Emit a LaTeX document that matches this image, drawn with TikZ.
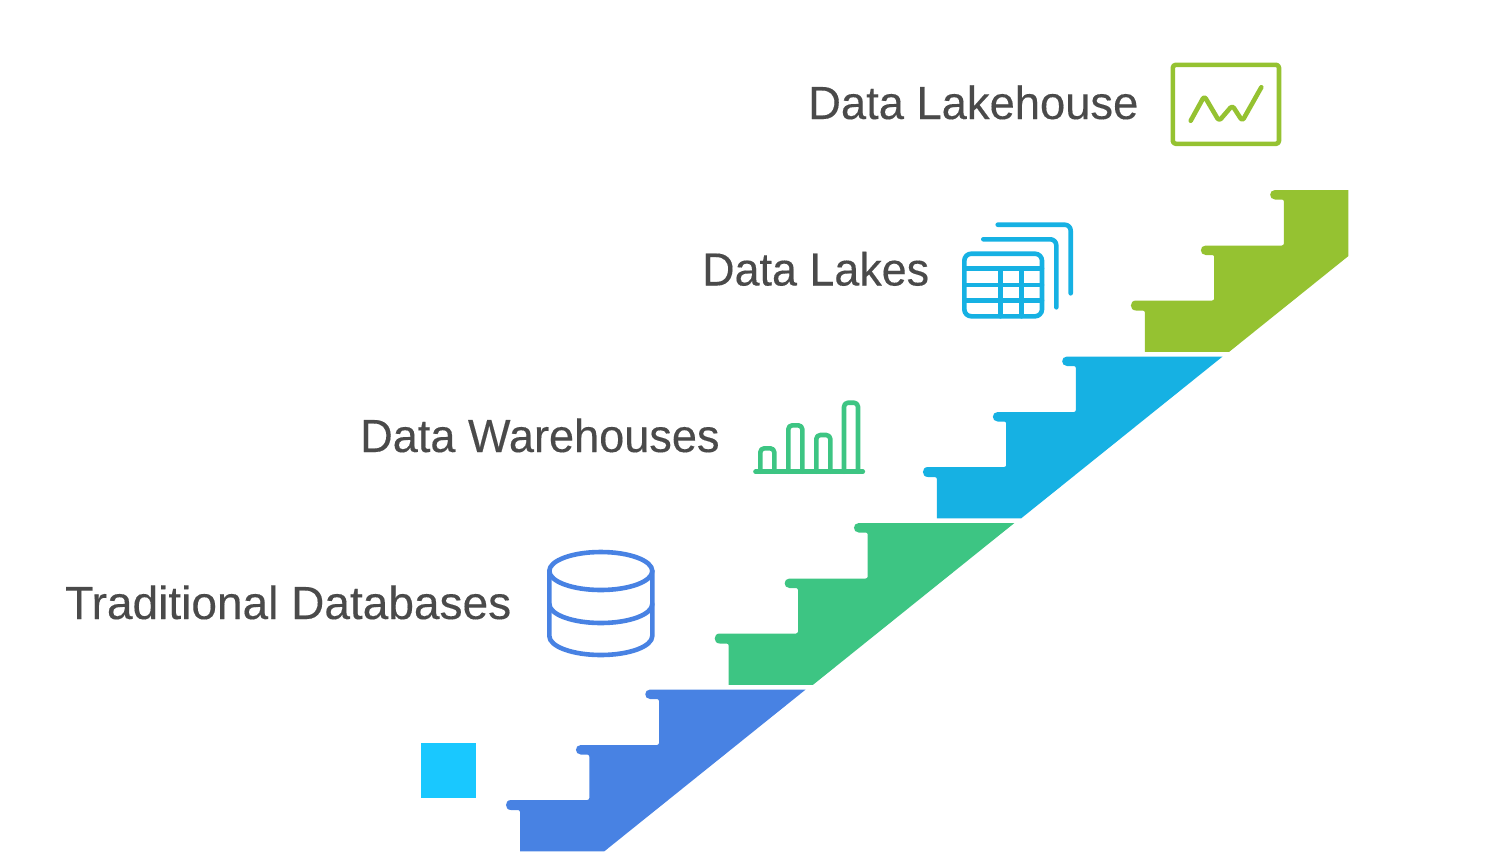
\documentclass[tikz,border=0pt]{standalone}
\usepackage{fontspec}
\setmainfont[FakeBold=0.25]{Liberation Sans}
\definecolor{stairblue}{HTML}{4882E3}
\definecolor{stairgreen}{HTML}{3DC583}
\definecolor{staircyan}{HTML}{16B1E3}
\definecolor{stairlime}{HTML}{95C231}
\definecolor{squarecyan}{HTML}{19C8FF}
\definecolor{labelgrey}{HTML}{4A4A4A}
\tikzset{
  label text/.style={anchor=base west,inner sep=0pt,text=labelgrey,font=\fontsize{46.5}{50}\selectfont},
  icon/.style={line width=4.6pt,line cap=round,line join=round,fill=none},
}
\newcommand{\stairoutline}{%
  (650,689.5) -- (805.7,689.5) -- (604.3,851.3) -- (520,851.3) -- (520,812)
  .. controls (520,811) and (519,810) .. (518,810) -- (511,810)
  .. controls (504.3,810) and (504.3,800) .. (511,800) -- (587.3,800)
  .. controls (588.4,800) and (589.3,799) .. (589.3,798) -- (589.3,756.5)
  .. controls (589.3,755.4) and (588.4,754.5) .. (587.3,754.5) -- (580.7,754.5)
  .. controls (574.4,754.5) and (574.4,745) .. (580.7,745) -- (657,745)
  .. controls (658.1,745) and (659,744) .. (659,743) -- (659,701)
  .. controls (659,699.9) and (658.1,699) .. (657,699) -- (650,699)
  .. controls (643.7,699) and (643.7,689.5) .. (650,689.5) -- cycle}
\begin{document}
\begin{tikzpicture}[x=1pt,y=-1pt]
\useasboundingbox (0,0) rectangle (1490,852);
% stairs
\fill[stairblue] \stairoutline;
\begin{scope}[shift={(208.7,-166.5)}]
\fill[stairgreen] \stairoutline;
\end{scope}
\begin{scope}[shift={(416.9,-333)}]
\fill[staircyan] \stairoutline;
\end{scope}
\begin{scope}
\clip (1100,180) rectangle (1348.3,360);
\begin{scope}[shift={(624.9,-499.5)}]
\fill[stairlime] \stairoutline;
\end{scope}
\end{scope}
% square
\fill[squarecyan] (420.7,742.6) rectangle (476,798);
% labels
\node[label text,xscale=0.975] (lakehouse) at (808,119) {Data Lakehouse};
\node[label text,xscale=0.965] (lakes) at (702,285.5) {Data Lakes};
\node[label text,xscale=0.97] (warehouses) at (360,452) {Data Warehouses};
\node[label text,xscale=0.99] (databases) at (65,619) {Traditional Databases};
% lakehouse icon
\draw[icon,stairlime,rounded corners=3pt] (1172.8,64.8) rectangle (1279,143.8);
\draw[icon,stairlime,rounded corners=3pt] (1190.7,120.7) -- (1204.3,96) -- (1219,121) -- (1232.3,105.5) -- (1242.3,121) -- (1261.3,87.3);
% lakes icon
\draw[icon,staircyan,rounded corners=7pt] (964.3,253.7) rectangle (1042,316.3);
\draw[icon,staircyan] (964.3,268.3) -- (1042,268.3) (964.3,285) -- (1042,285) (964.3,300.7) -- (1042,300.7)
  (1000.3,268.3) -- (1000.3,316.3) (1021.3,268.3) -- (1021.3,316.3);
\draw[icon,staircyan,rounded corners=6pt] (983.3,239.3) -- (1056.3,239.3) -- (1056.3,307.3);
\draw[icon,staircyan,rounded corners=6pt] (997.7,224.7) -- (1070.7,224.7) -- (1070.7,293.3);
% warehouses icon
\draw[icon,stairgreen,rounded corners=4pt] (760.3,471.7) -- (760.3,448.3) -- (774.3,448.3) -- (774.3,471.7);
\draw[icon,stairgreen,rounded corners=4pt] (788.3,471.7) -- (788.3,425.3) -- (802.3,425.3) -- (802.3,471.7);
\draw[icon,stairgreen,rounded corners=4pt] (816.3,471.7) -- (816.3,435) -- (830.3,435) -- (830.3,471.7);
\draw[icon,stairgreen,rounded corners=4pt] (844,471.7) -- (844,402.7) -- (858,402.7) -- (858,471.7);
\draw[icon,stairgreen] (755.5,471.7) -- (862.8,471.7);
% databases icon
\draw[icon,stairblue] (600.8,571) ellipse [x radius=51.5,y radius=19];
\draw[icon,stairblue] (549.3,571) -- (549.3,636) arc[start angle=180,end angle=0,x radius=51.5,y radius=19] -- (652.3,571);
\draw[icon,stairblue] (549.3,604) arc[start angle=180,end angle=0,x radius=51.5,y radius=19];
\end{tikzpicture}
\end{document}
